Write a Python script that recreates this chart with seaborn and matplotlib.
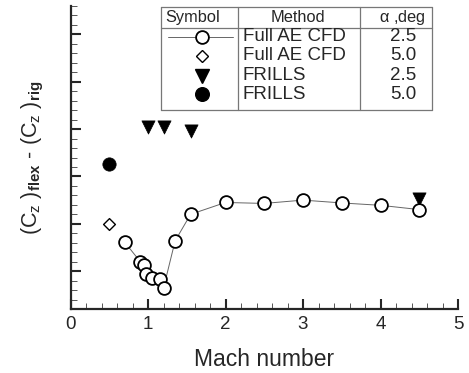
import numpy as np
import pandas as pd
import matplotlib
matplotlib.use("Agg")
import matplotlib.pyplot as plt
import seaborn as sns
from matplotlib.lines import Line2D
from matplotlib.ticker import MultipleLocator, NullFormatter

# data (y in units of major tick spacing, no labels shown)
cfd25_mach = [0.7, 0.9, 0.95, 0.98, 1.05, 1.15, 1.2, 1.35, 1.55, 2.0, 2.5, 3.0, 3.5, 4.0, 4.5]
cfd25_dcz = [0.61, 0.20, 0.13, -0.06, -0.14, -0.17, -0.36, 0.64, 1.20, 1.45, 1.43, 1.50, 1.44, 1.39, 1.30]
cfd50_mach = [0.5]
cfd50_dcz = [1.0]
frills25_mach = [1.0, 1.2, 1.55, 4.5]
frills25_dcz = [3.04, 3.04, 2.95, 1.52]
frills50_mach = [0.5]
frills50_dcz = [2.26]

legend_methods = ["Full AE CFD", "Full AE CFD", "FRILLS", "FRILLS"]
legend_alpha = ["2.5", "5.0", "2.5", "5.0"]

sns.set_style("ticks")
plt.rcParams["font.family"] = ["Liberation Sans", "DejaVu Sans"]
plt.rcParams["mathtext.fontset"] = "custom"
plt.rcParams["mathtext.rm"] = "Liberation Sans"
plt.rcParams["mathtext.it"] = "Liberation Sans"
plt.rcParams["mathtext.bf"] = "Liberation Sans:bold"

W, H = 469, 373
fig = plt.figure(figsize=(W / 100, H / 100), dpi=100)
ax = fig.add_axes([70.5 / W, 1 - 309 / H, (458 - 70.5) / W, (309 - 6) / H])

df = pd.DataFrame({"mach": cfd25_mach, "dcz": cfd25_dcz})
sns.lineplot(data=df, x="mach", y="dcz", ax=ax, color="#666666", lw=0.7,
             marker="o", markersize=9.2, mfc="white", mec="black", mew=1.3)
sns.scatterplot(x=cfd50_mach, y=cfd50_dcz, ax=ax, marker="D", s=36,
                facecolor="white", edgecolor="black", linewidth=1.0)
sns.scatterplot(x=frills25_mach, y=frills25_dcz, ax=ax, marker="v", s=90,
                color="black", edgecolor="black", linewidth=0.5, zorder=1)
sns.scatterplot(x=frills50_mach, y=frills50_dcz, ax=ax, marker="o", s=92,
                color="black", edgecolor="black", linewidth=0.5)

ax.set_xlim(0, 5)
ax.set_ylim(-0.8, 5.6)
ax.xaxis.set_major_locator(MultipleLocator(1))
ax.xaxis.set_minor_locator(MultipleLocator(0.2))
ax.yaxis.set_major_locator(MultipleLocator(1))
ax.yaxis.set_minor_locator(MultipleLocator(0.2))
ax.yaxis.set_major_formatter(NullFormatter())
ax.tick_params(which="major", direction="in", length=7, width=1.5, labelsize=13.5, pad=5)
ax.tick_params(which="minor", direction="in", length=4, width=0.7, color="#555555")
for s in ["top", "right"]:
    ax.spines[s].set_visible(False)
for s in ["left", "bottom"]:
    ax.spines[s].set_linewidth(1.6)

ax.set_xlabel("Mach number", fontsize=16.5, labelpad=11)
ax.set_ylabel(r"(C$_\mathregular{z}$ )$_\mathbf{flex}$ - (C$_\mathregular{z}$ )$_\mathbf{rig}$",
              fontsize=15.5, labelpad=13)

# legend table drawn in figure pixel coordinates
def fx(px):
    return px / W

def fy(py):
    return 1 - py / H

box_l, box_r, box_t, box_b = 160.7, 432, 6.7, 110
col1, col2, head = 238.3, 360, 27.7
gc = "#777777"
for xa, ya, xb, yb in [(box_l, box_t, box_r, box_t), (box_l, box_b, box_r, box_b),
                       (box_l, box_t, box_l, box_b), (box_r, box_t, box_r, box_b),
                       (col1, box_t, col1, box_b), (col2, box_t, col2, box_b),
                       (box_l, head, box_r, head)]:
    fig.add_artist(Line2D([fx(xa), fx(xb)], [fy(ya), fy(yb)], color=gc, lw=0.9))

fig.text(fx(193), fy(17.5), "Symbol", ha="center", va="center", fontsize=11.8)
fig.text(fx(298), fy(17.5), "Method", ha="center", va="center", fontsize=11.8)
fig.text(fx(402), fy(17.5), r"$\alpha$ ,deg", ha="center", va="center", fontsize=11.8)

row_y = [36.7, 55.5, 76, 94.3]
sym_x = 201.7
fig.add_artist(Line2D([fx(168), fx(233)], [fy(row_y[0])] * 2, color="#666666", lw=0.7))
sym_styles = [dict(marker="o", markersize=9.2, mfc="white", mec="black", mew=1.3),
              dict(marker="D", markersize=6, mfc="white", mec="black", mew=1.0),
              dict(marker="v", markersize=10, mfc="black", mec="black"),
              dict(marker="o", markersize=9.8, mfc="black", mec="black")]
for ry, st in zip(row_y, sym_styles):
    fig.add_artist(Line2D([fx(sym_x)], [fy(ry)], ls="none", **st))
for ry, m, a in zip(row_y, legend_methods, legend_alpha):
    fig.text(fx(242.5), fy(ry), m, ha="left", va="center", fontsize=13.5)
    fig.text(fx(403), fy(ry), a, ha="center", va="center", fontsize=13.5)

fig.savefig("out.png", dpi=100)
